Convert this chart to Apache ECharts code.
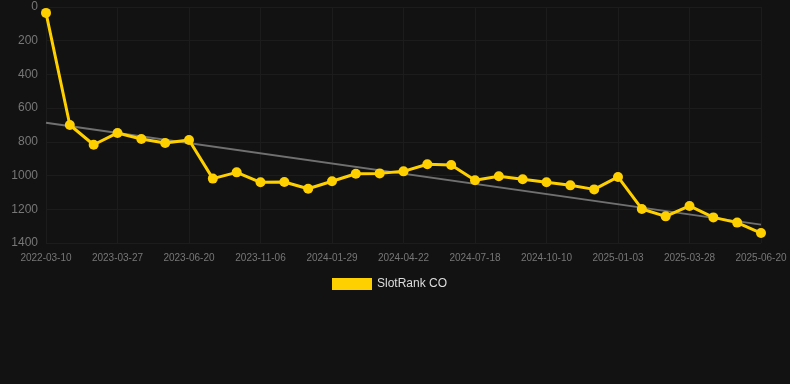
<!DOCTYPE html>
<html><head><meta charset="utf-8">
<script src="https://cdn.jsdelivr.net/npm/echarts@6/dist/echarts.min.js"></script>
<style>html,body{margin:0;padding:0;background:#121212}#c{width:790px;height:384px}</style>
</head><body><div id="c"></div>
<script>
var categories = ['2022-03-10','2022-04-07','2022-05-05','2023-03-27','2023-04-20','2023-05-15','2023-06-20','2023-07-18','2023-08-15','2023-11-06','2023-12-01','2023-12-29','2024-01-29','2024-02-26','2024-03-25','2024-04-22','2024-05-20','2024-06-17','2024-07-18','2024-08-15','2024-09-12','2024-10-10','2024-11-07','2024-12-05','2025-01-03','2025-01-31','2025-02-28','2025-03-28','2025-04-25','2025-05-23','2025-06-20'];
var rankValues = [35,700,817,747,783,807,789,1018,981,1040,1038,1078,1034,989,987,975,933,937,1028,1004,1022,1040,1058,1082,1008,1198,1242,1180,1248,1279,1341];
var trendStart = 686, trendEnd = 1291;
var yTicks = [0,200,400,600,800,1000,1200,1400];

var chart = echarts.init(document.getElementById('c'));
chart.setOption({
  backgroundColor:'#121212',
  animation:false,
  grid:{left:46,right:29,top:7,bottom:141,containLabel:false},
  legend:{data:[{name:'SlotRank CO',icon:'rect'}],top:273,left:327,itemWidth:40,itemHeight:12,itemGap:10,
    textStyle:{color:'#ddd',fontSize:12,fontFamily:'Liberation Sans, Arial'}},
  xAxis:{type:'category',data:categories,boundaryGap:false,
    axisLine:{show:false},axisTick:{show:false},
    axisLabel:{interval:2,color:'#777',fontSize:10,margin:10,fontFamily:'Liberation Sans, Arial'},
    splitLine:{show:true,interval:2,lineStyle:{color:'#1c1c1c'}}},
  yAxis:{type:'value',inverse:true,min:yTicks[0],max:yTicks[yTicks.length-1],interval:200,
    axisLine:{show:false},axisTick:{show:false},
    axisLabel:{color:'#777',fontSize:12,margin:8,fontFamily:'Liberation Sans, Arial',formatter:function(v){return String(v);}},
    splitLine:{lineStyle:{color:'#1c1c1c'}}},
  series:[
    {name:'trend',type:'line',data:[[0,trendStart],[categories.length-1,trendEnd]],
      symbol:'none',lineStyle:{color:'#707070',width:2},z:1,silent:true},
    {name:'SlotRank CO',type:'line',data:rankValues,symbol:'circle',symbolSize:10,
      itemStyle:{color:'#FFD000'},lineStyle:{color:'#FFD000',width:3},z:2}
  ]
});
</script></body></html>
